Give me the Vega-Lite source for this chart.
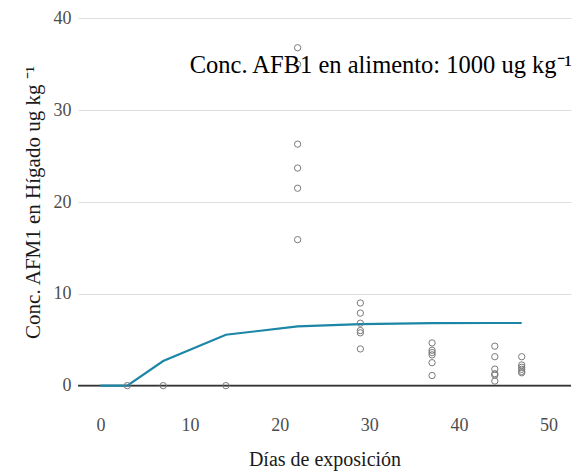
{
  "$schema": "https://vega.github.io/schema/vega-lite/v6.json",
  "width": 493,
  "height": 404,
  "autosize": {"type": "none"},
  "padding": {"left": 78, "top": 0, "right": 16, "bottom": 68},
  "background": "white",
  "config": {
    "view": {"stroke": null},
    "font": "Liberation Serif",
    "axis": {
      "labelFont": "Liberation Serif",
      "titleFont": "Liberation Serif",
      "labelFontSize": 18,
      "titleFontSize": 20,
      "labelColor": "#4d4d4d",
      "titleColor": "#1a1a1a",
      "titleFontWeight": "normal",
      "domain": false,
      "ticks": false
    }
  },
  "datasets": {
    "obs": [
      {"dia": 3, "conc": 0},
      {"dia": 7, "conc": 0},
      {"dia": 14, "conc": 0},
      {"dia": 22, "conc": 36.8},
      {"dia": 22, "conc": 35.0},
      {"dia": 22, "conc": 26.3},
      {"dia": 22, "conc": 23.7},
      {"dia": 22, "conc": 21.5},
      {"dia": 22, "conc": 15.9},
      {"dia": 29, "conc": 9.0},
      {"dia": 29, "conc": 7.9},
      {"dia": 29, "conc": 6.8},
      {"dia": 29, "conc": 6.0},
      {"dia": 29, "conc": 5.75},
      {"dia": 29, "conc": 4.0},
      {"dia": 37, "conc": 4.65},
      {"dia": 37, "conc": 3.85},
      {"dia": 37, "conc": 3.6},
      {"dia": 37, "conc": 3.35},
      {"dia": 37, "conc": 2.5},
      {"dia": 37, "conc": 1.1},
      {"dia": 44, "conc": 4.3},
      {"dia": 44, "conc": 3.15},
      {"dia": 44, "conc": 1.8},
      {"dia": 44, "conc": 1.3},
      {"dia": 44, "conc": 1.15},
      {"dia": 44, "conc": 0.5},
      {"dia": 47, "conc": 3.15},
      {"dia": 47, "conc": 2.25},
      {"dia": 47, "conc": 2.0},
      {"dia": 47, "conc": 1.78},
      {"dia": 47, "conc": 1.55},
      {"dia": 47, "conc": 1.4}
    ],
    "fit": [
      {"dia": 0, "conc": 0},
      {"dia": 3, "conc": 0},
      {"dia": 7, "conc": 2.68},
      {"dia": 14, "conc": 5.54},
      {"dia": 22, "conc": 6.45},
      {"dia": 29, "conc": 6.7},
      {"dia": 37, "conc": 6.8},
      {"dia": 44, "conc": 6.82},
      {"dia": 47, "conc": 6.82}
    ],
    "nota": [
      {"lab": "Conc. AFB1 en alimento: 1000 ug kg⁻¹"}
    ]
  },
  "layer": [
    {
      "data": {"values": [{"z": 0}]},
      "mark": {"type": "rule", "color": "#333333", "strokeWidth": 1.6},
      "encoding": {
        "y": {
          "field": "z",
          "type": "quantitative",
          "scale": {"domain": [-2, 42], "nice": false, "zero": false},
          "axis": {"title": "Conc. AFM1 en Hígado ug kg ⁻¹", "titleFontSize": 21, "values": [0, 10, 20, 30, 40], "grid": true, "gridColor": "#dedede", "gridWidth": 1.2, "labelPadding": 7, "titlePadding": 10}
        }
      }
    },
    {
      "data": {"name": "fit"},
      "mark": {"type": "line", "color": "#1b86a6", "strokeWidth": 2.2},
      "encoding": {
        "x": {
          "field": "dia",
          "type": "quantitative",
          "scale": {"domain": [-2.5, 52.5], "nice": false, "zero": false},
          "axis": {"title": "Días de exposición", "values": [0, 10, 20, 30, 40, 50], "grid": false, "labelPadding": 12, "titlePadding": 15}
        },
        "y": {"field": "conc", "type": "quantitative"}
      }
    },
    {
      "data": {"name": "obs"},
      "mark": {"type": "point", "shape": "circle", "filled": false, "color": "#7a7a7a", "size": 40, "strokeWidth": 1, "opacity": 1},
      "encoding": {
        "x": {"field": "dia", "type": "quantitative"},
        "y": {"field": "conc", "type": "quantitative"}
      }
    },
    {
      "data": {"name": "nota"},
      "mark": {"type": "text", "align": "right", "baseline": "alphabetic", "font": "Liberation Serif", "fontSize": 24.5, "color": "#000000"},
      "encoding": {
        "x": {"datum": 52.6, "type": "quantitative"},
        "y": {"datum": 34.05, "type": "quantitative"},
        "text": {"field": "lab", "type": "nominal"}
      }
    }
  ]
}
